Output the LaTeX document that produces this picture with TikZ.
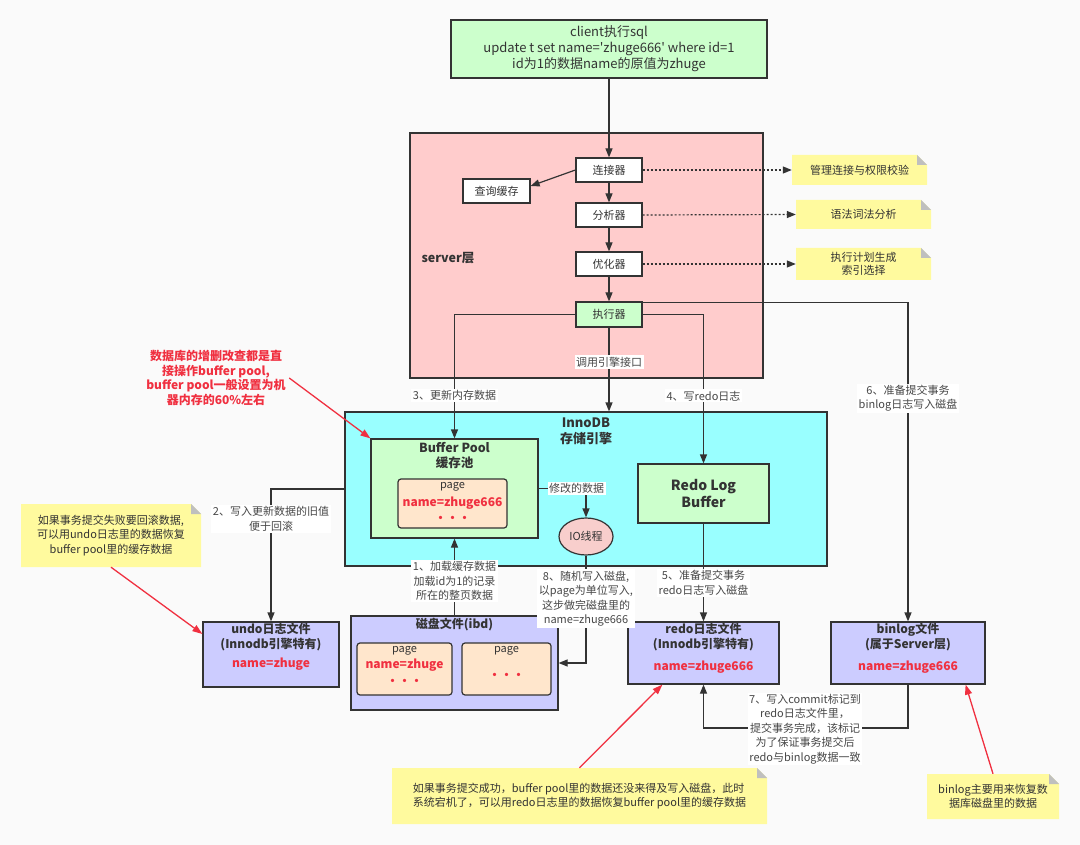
\documentclass[tikz,border=0pt]{standalone}
\usepackage{fontspec}
\setmainfont{Noto Sans CJK SC}[Ligatures=TeXOff]
\usetikzlibrary{shapes.geometric,arrows.meta,calc}
\definecolor{cgreen}{HTML}{CCFFCC}
\definecolor{cpink}{HTML}{FFCCCC}
\definecolor{ccyan}{HTML}{99FFFF}
\definecolor{cpurple}{HTML}{CCCCFF}
\definecolor{cpeach}{HTML}{FFE6CC}
\definecolor{cyellow}{HTML}{FFFA9E}
\definecolor{cio}{HTML}{F8CECC}
\definecolor{cred}{HTML}{F03040}
\definecolor{cline}{HTML}{333333}
\definecolor{ctext}{HTML}{333333}
\definecolor{cbg}{HTML}{FAFAFA}
\begin{document}
\begin{tikzpicture}[x=1pt,y=-1pt,
  font=\fontsize{11}{14.5}\selectfont, text=ctext,
  box/.style={draw=cline, line width=1.2pt, inner sep=0pt, align=center},
  plain/.style={box, fill=white},
  note/.style={inner sep=0pt, align=center, path picture={
    \fill[cyellow] (path picture bounding box.south west) -- (path picture bounding box.north west)
      -- ([xshift=-10pt]path picture bounding box.north east) -- ([yshift=-10pt]path picture bounding box.north east)
      -- (path picture bounding box.south east) -- cycle;
    \fill[black!25] ([xshift=-10pt]path picture bounding box.north east) -- ([xshift=-10pt,yshift=-10pt]path picture bounding box.north east)
      -- ([yshift=-10pt]path picture bounding box.north east) -- cycle;}},
  arr/.style={draw=cline, line width=1.2pt, -{Triangle[length=9pt,width=7pt]}},
  ln/.style={draw=cline, line width=1.2pt},
  dotarr/.style={draw=cline, line width=1.2pt, dash pattern=on 2pt off 2pt, -{Triangle[length=9pt,width=7pt]}},
  redarr/.style={draw=cred, line width=1.3pt, -{Triangle[length=10pt,width=7pt]}},
  lbl/.style={fill=white, inner sep=1.5pt, align=center, text=ctext!90},
  redb/.style={text=cred, font=\fontsize{12}{14}\selectfont\bfseries},
  title/.style={font=\fontsize{12.5}{15}\selectfont\bfseries},
]
\useasboundingbox[fill=cbg] (0,0) rectangle (1080,845);

% top
\node[box, fill=cgreen, minimum width=316pt, minimum height=58pt, font=\fontsize{13}{16}\selectfont] (client) at (609,49)
  {client执行sql\\update t set name='zhuge666' where id=1\\id为1的数据name的原值为zhuge};

% server layer
\node[box, fill=cpink, minimum width=353pt, minimum height=245pt] (server) at (586.5,255.5) {};
\node[font=\fontsize{12.5}{15}\selectfont\bfseries] (serverlbl) at (448,258) {server层};
\node[plain, minimum width=66pt, minimum height=24pt] (conn) at (609,170) {连接器};
\node[plain, minimum width=67pt, minimum height=24pt] (cache) at (496.5,191) {查询缓存};
\node[plain, minimum width=66pt, minimum height=24pt] (ana) at (609,215) {分析器};
\node[plain, minimum width=66pt, minimum height=24pt] (opt) at (609,264) {优化器};
\node[box, fill=cgreen, minimum width=66pt, minimum height=25pt] (exe) at (609,314.5) {执行器};

% notes right
\node[note, minimum width=135pt, minimum height=30pt] (n1) at (859.5,170) {管理连接与权限校验};
\node[note, minimum width=135pt, minimum height=29pt] (n2) at (863.5,214.5) {语法词法分析};
\node[note, minimum width=135pt, minimum height=32pt, font=\fontsize{11}{13.5}\selectfont] (n3) at (863.5,264) {执行计划生成\\索引选择};

% innodb
\node[box, fill=ccyan, minimum width=482pt, minimum height=154pt] (innodb) at (586,489) {};
\node[title, align=center, font=\fontsize{13}{16}\selectfont\bfseries] (innolbl) at (586,431) {InnoDB\\存储引擎};
\node[box, fill=cgreen, minimum width=167pt, minimum height=99pt] (bp) at (454.5,488.5) {};
\node[title, align=center] (bplbl) at (454.5,456) {Buffer Pool\\缓存池};
\node[box, fill=cpeach, rounded corners=3pt, minimum width=109pt, minimum height=49pt] (bpage) at (452.5,503.5) {};
\node (bpage1) at (452.5,487) {page};
\node[redb] (bpage2) at (452.5,503) {name=zhuge666};
\node[redb] (bpage3) at (452.5,519) {・・・};
\node[box, fill=cgreen, minimum width=131pt, minimum height=59pt, font=\fontsize{14}{17}\selectfont\bfseries] (redobuf) at (703.5,493.5) {Redo Log\\Buffer};
\node[box, ellipse, fill=cio, minimum width=54pt, minimum height=37pt] (io) at (586,536.5) {IO线程};

% undo
\node[box, fill=cpurple, minimum width=136pt, minimum height=65pt] (undo) at (271,654.5) {};
\node[title, font=\fontsize{12}{15}\selectfont\bfseries, align=center] (undolbl) at (271,637) {undo日志文件\\(Innodb引擎特有)};
\node[redb] (undoval) at (271,664) {name=zhuge};

% disk
\node[box, fill=cpurple, minimum width=207pt, minimum height=94pt] (disk) at (454.5,663) {};
\node[title, font=\fontsize{12}{15}\selectfont\bfseries] (disklbl) at (454.5,625) {磁盘文件(ibd)};
\node[box, fill=cpeach, rounded corners=3pt, minimum width=95pt, minimum height=52pt] (dp1) at (404.5,669) {};
\node (dp1a) at (404.5,651) {page};
\node[redb] (dp1b) at (404.5,665) {name=zhuge};
\node[redb] (dp1c) at (404.5,682) {・・・};
\node[box, fill=cpeach, rounded corners=3pt, minimum width=89pt, minimum height=52pt] (dp2) at (506.5,669) {};
\node (dp2a) at (506.5,651) {page};
\node[redb] (dp2c) at (506.5,676) {・・・};

% redo / binlog files
\node[box, fill=cpurple, minimum width=151pt, minimum height=62pt] (redo) at (703.5,653) {};
\node[title, font=\fontsize{12}{14.5}\selectfont\bfseries, align=center] (redolbl) at (703.5,637) {redo日志文件\\(Innodb引擎特有)};
\node[redb] (redoval) at (703.5,667) {name=zhuge666};
\node[box, fill=cpurple, minimum width=154pt, minimum height=62pt] (binlog) at (908,653) {};
\node[title, font=\fontsize{12}{14.5}\selectfont\bfseries, align=center] (binlbl) at (908,637) {binlog文件\\(属于Server层)};
\node[redb] (binval) at (908,667) {name=zhuge666};

% notes
\node[text=cred, font=\fontsize{12}{14.5}\selectfont\bfseries, align=center] (rnote) at (216,378)
  {数据库的增删改查都是直\\接操作buffer pool,\\buffer pool一般设置为机\\器内存的60\%左右};
\node[note, minimum width=180pt, minimum height=63pt] (lnote) at (111,535.5)
  {如果事务提交失败要回滚数据,\\可以用undo日志里的数据恢复\\buffer pool里的缓存数据};
\node[note, minimum width=375pt, minimum height=56pt, align=left] (bnote) at (579.5,796)
  {如果事务提交成功，buffer pool里的数据还没来得及写入磁盘，此时\\系统宕机了，可以用redo日志里的数据恢复buffer pool里的缓存数据};
\node[note, minimum width=132pt, minimum height=45pt] (binnote) at (993,796.5)
  {binlog主要用来恢复数\\据库磁盘里的数据};

% connectors
\draw[arr] (client) -- (conn);
\draw[arr] (conn.west) -- ([yshift=5pt]cache.east);
\draw[arr] (conn) -- (ana);
\draw[arr] (ana) -- (opt);
\draw[arr] (opt) -- (exe);
\draw[dotarr] (conn.east) -- (n1.west);
\draw[dotarr] (ana.east) -- (n2.west);
\draw[dotarr] (opt.east) -- (n3.west);

\draw[arr] (exe.south) -- node[lbl, pos=0.41] {调用引擎接口} (exe.south |- innodb.north);
\draw[arr] (exe.west) -| node[lbl, pos=0.827] {3、更新内存数据} (bp.north);
\draw[arr] (exe.east) -| node[lbl, pos=0.773] {4、写redo日志} (redobuf.north);
\draw[arr] ([yshift=-1.5pt]exe.north east) -| node[lbl, pos=0.65] {6、准备提交事务\\binlog日志写入磁盘} (binlog.north);

\draw[arr] (bp.east) -| node[lbl, pos=0.4] {修改的数据} (io.north);
\draw[arr] (io.south) |- node[lbl, pos=0.2] {8、随机写入磁盘,\\以page为单位写入,\\这步做完磁盘里的\\name=zhuge666} (disk.east);
\draw[arr] (disk.north) -- node[lbl, pos=0.45] {1、加载缓存数据\\加载id为1的记录\\所在的整页数据} (bp.south);
\draw[arr] (innodb.west) -| node[lbl, pos=0.613] {2、写入更新数据的旧值\\便于回滚} (undo.north);
\draw[arr] (redobuf.south) -- node[lbl, pos=0.606] {5、准备提交事务\\redo日志写入磁盘} (redo.north);

\coordinate (c7) at (805,728);
\draw[ln] (binlog.south) |- (c7);
\draw[arr] (c7) -| (redo.south);
\node[lbl] (lbl7) at (805,729) {7、写入commit标记到\\redo日志文件里，\\提交事务完成，该标记\\为了保证事务提交后\\redo与binlog数据一致};

% red arrows
\draw[redarr] (rnote.east) -- (bp.north west);
\draw[redarr] (lnote.south) -- ([yshift=20.5pt]undo.west);
\draw[redarr] (bnote.north) -- ([xshift=35pt]redo.south west);
\draw[redarr] (binnote.north) -- ([xshift=-20pt]binlog.south east);
\end{tikzpicture}
\end{document}
